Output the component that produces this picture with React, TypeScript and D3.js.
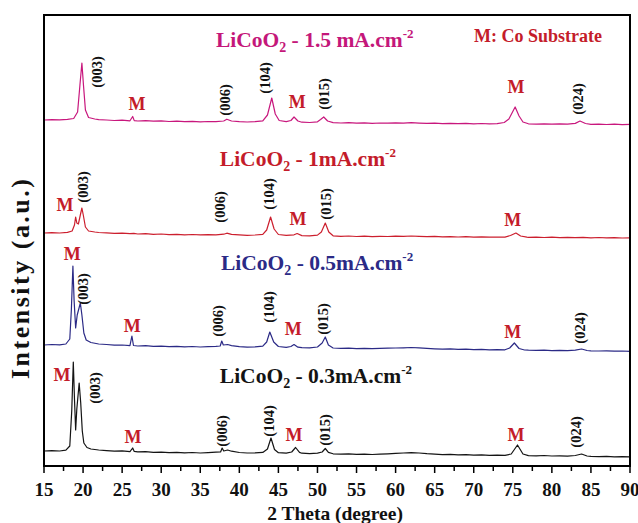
import * as React from "react";
import { scaleLinear, line as d3Line, range } from "d3";

// XRD patterns: [2theta, intensity (a.u.)]
const pattern03: [number, number][] = [
  [15, 10], [16, 10.4], [17, 10], [17.8, 10.8], [18.3, 15], [18.55, 50], [18.75, 99], [18.9, 62],
  [19.05, 31], [19.2, 52], [19.5, 78], [19.7, 58], [19.9, 30], [20.1, 18], [20.5, 13.5], [21, 12],
  [22, 11], [23, 10.4], [24, 9.8], [25, 10.1], [26, 9.4], [26.35, 13], [26.55, 9.6], [27, 9.1],
  [28, 9.4], [29, 8.7], [30, 8.9], [31, 8.3], [32, 8.6], [33, 8.1], [34, 8.5], [35, 8], [36, 8.4],
  [37, 8.8], [37.6, 9], [37.8, 13], [38, 10], [38.5, 11], [39, 9.8], [40, 8.5], [41, 8], [42, 8.2],
  [43, 8.6], [43.6, 12], [44.05, 23], [44.5, 11.5], [45, 8.3], [46, 7.8], [46.7, 9], [47.2, 13.5],
  [47.7, 8.6], [48, 7.8], [49, 7.4], [50, 7.8], [50.6, 9], [51, 12.5], [51.4, 8.6], [52, 7.2],
  [53, 6.8], [54, 7.1], [55, 6.6], [56, 6.9], [57, 6.5], [58, 6.9], [59, 7.2], [60, 7.6], [61, 8],
  [62, 8.4], [63, 8], [64, 7.3], [65, 6.8], [66, 6.4], [67, 6.6], [68, 6.1], [69, 6.4], [70, 5.9],
  [71, 6.2], [72, 5.7], [73, 5.9], [74, 5.6], [74.8, 7], [75.6, 16], [76.3, 7], [77, 5.4], [78, 5.2],
  [79, 5.5], [80, 5], [81, 5.2], [82, 4.9], [83, 5.5], [83.8, 7], [84.5, 5], [85, 4.6], [86, 4.4],
  [87, 4.6], [88, 4.2], [89, 4.4], [90, 4.1],
];

const pattern05: [number, number][] = [
  [15, 10], [16, 10.5], [17, 10.2], [17.8, 11], [18.3, 16], [18.5, 45], [18.7, 89], [18.85, 55],
  [19.05, 27], [19.25, 40], [19.65, 52], [19.85, 40], [20.1, 22], [20.4, 15], [21, 12.5], [22, 11],
  [23, 10.5], [24, 9.8], [25, 10], [26, 9.3], [26.25, 19], [26.45, 9.5], [27, 9], [28, 9.3],
  [29, 8.6], [30, 8.9], [31, 8.3], [32, 8.6], [33, 8.1], [34, 8.5], [35, 8], [36, 8.3], [37, 8.6],
  [37.55, 9], [37.75, 14], [37.95, 10], [38.5, 10.5], [39, 9.4], [40, 8.4], [41, 7.9], [42, 8.2],
  [43, 8.8], [43.5, 13], [43.9, 23], [44.4, 13], [45, 8.5], [46, 7.6], [46.6, 8.5], [47, 10.5],
  [47.5, 7.8], [48, 7.3], [49, 7.1], [50, 8], [50.6, 12], [51, 18], [51.4, 10], [52, 7], [53, 6.6],
  [54, 6.9], [55, 6.4], [56, 6.7], [57, 6.3], [58, 6.6], [59, 6.8], [60, 7], [61, 7.2], [62, 7.5],
  [63, 7.1], [64, 6.6], [65, 6.2], [66, 5.9], [67, 6.1], [68, 5.6], [69, 5.9], [70, 5.4], [71, 5.7],
  [72, 5.2], [73, 5.4], [74, 5.2], [74.6, 7], [75.2, 12], [75.8, 6.5], [76.5, 5], [77, 4.8],
  [78, 4.6], [79, 4.9], [80, 4.4], [81, 4.7], [82, 4.3], [83, 4.8], [83.8, 6], [84.5, 4.5], [85, 4.2],
  [86, 4], [87, 4.2], [88, 3.8], [89, 4], [90, 3.7],
];

const pattern10: [number, number][] = [
  [15, 10], [16, 10.4], [17, 10], [18, 10.6], [18.6, 12], [18.9, 18], [19.05, 26], [19.2, 20],
  [19.4, 19], [19.65, 28], [19.85, 35], [20.05, 27], [20.3, 16], [20.7, 12], [21.5, 11], [22, 10.5],
  [23, 10.1], [24, 9.6], [25, 9.9], [26, 9.3], [26.5, 9.6], [27, 9], [28, 9.3], [29, 8.7], [30, 9],
  [31, 8.4], [32, 8.7], [33, 8.2], [34, 8.5], [35, 8.1], [36, 8.4], [37, 8.2], [38, 8.8], [38.4, 9.8],
  [39, 8.6], [40, 8.1], [41, 7.7], [42, 8], [43, 8.6], [43.5, 13], [44, 26], [44.45, 14], [45, 8.5],
  [46, 7.6], [47, 8.2], [47.4, 9.5], [48, 7.4], [49, 7.1], [50, 7.9], [50.5, 11], [51, 20],
  [51.45, 11], [52, 7.2], [53, 6.7], [54, 7], [55, 6.5], [56, 6.8], [57, 6.4], [58, 6.7], [59, 6.5],
  [60, 6.9], [61, 6.6], [62, 7], [63, 6.6], [64, 6.3], [65, 6.6], [66, 6.1], [67, 6.4], [68, 6],
  [69, 6.3], [70, 5.9], [71, 6.2], [72, 5.8], [73, 6], [74, 5.9], [74.7, 7.5], [75.4, 10], [76, 7],
  [76.8, 5.8], [77, 5.6], [78, 5.9], [79, 5.5], [80, 5.8], [81, 5.4], [82, 5.7], [83, 5.3], [84, 5.7],
  [85, 5.2], [86, 5.5], [87, 5.1], [88, 5.4], [89, 5], [90, 5.2],
];

const pattern15: [number, number][] = [
  [15, 10], [16, 10.4], [17, 10.1], [18, 10.6], [18.8, 11.5], [19.3, 18], [19.6, 45], [19.85, 67],
  [20.05, 45], [20.3, 20], [20.7, 12.5], [21.5, 11], [22, 10.4], [23, 10], [24, 9.5], [25, 9.8],
  [26, 9.2], [26.35, 13.5], [26.55, 9.4], [27, 9], [28, 9.3], [29, 8.8], [30, 9.1], [31, 8.5],
  [32, 8.8], [33, 8.3], [34, 8.6], [35, 8.2], [36, 8.5], [37, 8.3], [38, 9], [38.4, 10.8], [39, 9],
  [40, 8.4], [41, 8], [42, 8.3], [43, 9.2], [43.6, 15], [44.15, 32], [44.6, 16], [45.1, 9.5],
  [46, 8.3], [46.6, 9.5], [47, 13], [47.5, 9], [48, 7.8], [49, 7.5], [50, 8.2], [50.4, 10.5],
  [50.8, 13], [51.3, 9], [52, 7.4], [53, 7], [54, 7.3], [55, 6.8], [56, 7.1], [57, 6.7], [58, 7],
  [59, 6.8], [60, 7.2], [61, 6.9], [62, 7.3], [63, 6.9], [64, 6.6], [65, 6.9], [66, 6.4], [67, 6.7],
  [68, 6.3], [69, 6.6], [70, 6.2], [71, 6.5], [72, 6.1], [73, 6.4], [73.9, 7.5], [74.5, 11],
  [75.3, 23], [75.8, 14], [76.3, 8], [77, 6.2], [78, 5.9], [79, 6.2], [80, 5.8], [81, 6.1], [82, 5.9],
  [83, 6.6], [83.6, 9], [84.3, 6.5], [85, 5.6], [86, 5.9], [87, 5.5], [88, 5.8], [89, 5.4], [90, 5.6],
];

// stacking offsets (a.u.) for each pattern
const patterns = [pattern03, pattern05, pattern10, pattern15];
const offsets = [5, 111, 223, 336];
const colors = ["#141414", "#2b2a86", "#cc1f2e", "#c8177d"];

// sample titles: [current density, theta at start, level of baseline]
const titleDensity = ["0.3mA.cm", "0.5mA.cm", "1mA.cm", "1.5 mA.cm"];
const titleTheta = [37.5, 37.65, 37.5, 37.0];
const titleLevel = [83, 196, 300, 419];
const titleColors = ["#141414", "#2b2a86", "#c41c2a", "#c4177a"];

// peak annotations: [text, theta, level]
const peakLabels: [string, number, number][] = [
  // 1.5 mA
  ["(003)", 21.8, 394], ["M", 26.9, 362], ["(006)", 38.2, 366], ["(104)", 43.3, 388],
  ["M", 47.4, 364], ["(015)", 50.8, 372], ["M", 75.4, 379], ["(024)", 83.3, 367],
  // 1 mA
  ["M", 17.7, 261], ["(003)", 20.0, 279], ["(006)", 37.5, 259], ["(104)", 43.8, 272],
  ["M", 47.5, 247], ["(015)", 51.1, 262], ["M", 75.0, 246],
  // 0.5 mA
  ["M", 18.6, 212], ["(003)", 20.0, 177], ["M", 26.3, 140], ["(006)", 37.3, 145],
  ["(104)", 43.8, 159], ["M", 46.9, 137], ["(015)", 50.7, 147], ["M", 75.0, 134], ["(024)", 83.6, 138],
  // 0.3 mA
  ["M", 17.3, 91], ["(003)", 21.5, 78], ["M", 26.4, 29], ["(006)", 37.8, 35], ["(104)", 43.8, 45],
  ["M", 47.0, 31], ["(015)", 51.0, 36], ["M", 75.4, 31], ["(024)", 83.1, 34],
];

const xTicks = range(15, 90.01, 5);
const xMinorTicks = range(15, 90.01, 2.5);

const W = 638;
const H = 523;
const margin = { top: 15, right: 8, bottom: 57, left: 44 };
const FONT = "'Liberation Serif', 'Times New Roman', serif";
const M_COLOR = "#c41c2a";

const App = () => {
  const innerW = W - margin.left - margin.right;
  const innerH = H - margin.top - margin.bottom;
  const x = scaleLinear().domain([15, 90]).range([margin.left, margin.left + innerW]);
  const y = scaleLinear().domain([0, innerH]).range([margin.top + innerH, margin.top]);
  const bottom = margin.top + innerH;

  return (
    <svg width={W} height={H} style={{ position: "absolute", left: 0, top: 0 }} fontFamily={FONT}>
      <rect width={W} height={H} fill="#fff" />
      {patterns.map((p, i) => {
        const ln = d3Line<[number, number]>()
          .x(d => x(d[0]))
          .y(d => y(d[1] + offsets[i]));
        return (
          <path
            key={i}
            d={ln(p) || ""}
            fill="none"
            stroke={colors[i]}
            strokeWidth={1.2}
            strokeLinejoin="round"
          />
        );
      })}

      {peakLabels.map(([t, th, lv], i) =>
        t === "M" ? (
          <text
            key={i}
            x={x(th)}
            y={y(lv)}
            textAnchor="middle"
            dominantBaseline="central"
            fontSize={18}
            fontWeight="bold"
            fill={M_COLOR}
          >
            M
          </text>
        ) : (
          <text
            key={i}
            transform={`translate(${x(th)},${y(lv)}) rotate(-90)`}
            textAnchor="middle"
            dominantBaseline="central"
            fontSize={14.5}
            fontWeight="bold"
            fill="#111"
          >
            {t}
          </text>
        )
      )}

      {titleDensity.map((d, i) => (
        <text
          key={i}
          x={x(titleTheta[i])}
          y={y(titleLevel[i])}
          fontSize={21.5}
          fontWeight="bold"
          fill={titleColors[i]}
        >
          LiCoO
          <tspan fontSize={14} dy={5}>2</tspan>
          <tspan dy={-5}>{` - ${d}`}</tspan>
          <tspan fontSize={13} dy={-9}>-2</tspan>
        </text>
      ))}

      <text x={474} y={42} fontSize={18} fontWeight="bold" fill={M_COLOR}>
        M: Co Substrate
      </text>

      {/* frame */}
      <rect
        x={margin.left}
        y={margin.top}
        width={innerW}
        height={innerH}
        fill="none"
        stroke="#000"
        strokeWidth={2}
      />

      {/* x axis ticks */}
      {xMinorTicks.map(t => (
        <line
          key={`m${t}`}
          x1={x(t)}
          x2={x(t)}
          y1={bottom}
          y2={bottom + (t % 5 === 0 ? 7 : 5)}
          stroke="#000"
          strokeWidth={1.5}
        />
      ))}
      {xTicks.map(t => (
        <text
          key={`l${t}`}
          x={x(t)}
          y={bottom + 30}
          textAnchor="middle"
          fontSize={19}
          fontWeight="bold"
          fill="#111"
        >
          {t}
        </text>
      ))}

      <text x={335} y={520} textAnchor="middle" fontSize={19.5} fontWeight="bold" fill="#111">
        2 Theta (degree)
      </text>
      <text
        transform="translate(29,279) rotate(-90)"
        textAnchor="middle"
        fontSize={26}
        fontWeight="bold"
        fill="#111"
        textLength={200}
        lengthAdjust="spacing"
      >
        Intensity (a.u.)
      </text>
    </svg>
  );
};

export default App;
